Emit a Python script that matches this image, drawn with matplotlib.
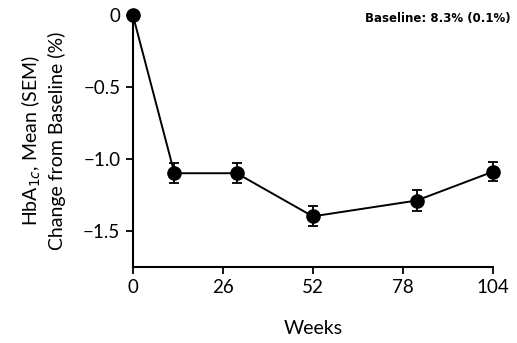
import matplotlib
matplotlib.use("Agg")
import matplotlib.pyplot as plt

weeks = [0, 12, 30, 52, 82, 104]
change = [0.0, -1.10, -1.10, -1.40, -1.29, -1.09]
sem = [0.0, 0.07, 0.07, 0.07, 0.07, 0.065]
xticks = [0, 26, 52, 78, 104]
yticks = [0, -0.5, -1.0, -1.5]
ytick_labels = ["0", "\u22120.5", "\u22121.0", "\u22121.5"]

plt.rcParams['font.family'] = ['Lato', 'DejaVu Sans']

fig = plt.figure(figsize=(5.17, 3.43), dpi=100)
ax = fig.add_axes([0.257, 0.2225, 0.696, 0.7335])

ax.errorbar(weeks, change, yerr=sem, color='black', lw=1.4, marker='o', ms=9.5,
            capsize=3.5, capthick=1.3, elinewidth=1.3, clip_on=False, zorder=3)

ax.set_xlim(0, 104)
ax.set_ylim(-1.75, 0)
ax.set_xticks(xticks)
ax.set_xticklabels([str(t) for t in xticks])
ax.set_yticks(yticks)
ax.set_yticklabels(ytick_labels)
ax.tick_params(axis='both', labelsize=13.5, direction='out', length=5, width=1.3, pad=4)

for s in ['top', 'right']:
    ax.spines[s].set_visible(False)
for s in ['left', 'bottom']:
    ax.spines[s].set_linewidth(1.5)

ax.set_xlabel("Weeks", fontsize=14, labelpad=17)
ax.set_ylabel("HbA$_{1c}$, Mean (SEM)\nChange from Baseline (%)", fontsize=14, labelpad=12,
              linespacing=1.35)

fig.text(0.987, 0.945, "Baseline: 8.3% (0.1%)", ha='right', va='center',
         fontsize=8.5, fontweight='bold', family=['DejaVu Sans'])

fig.savefig("out.png", dpi=100)
